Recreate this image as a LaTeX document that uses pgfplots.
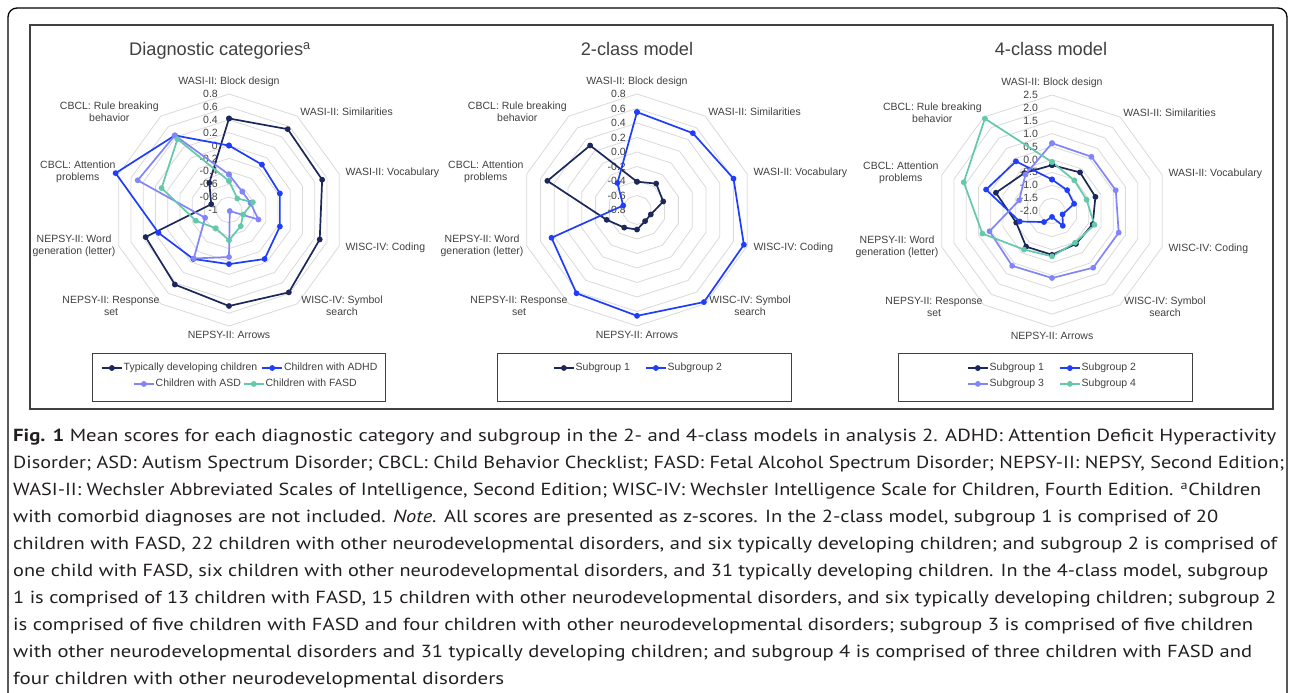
\documentclass[border=0pt]{standalone}
\usepackage{pgfplots}
\pgfplotsset{compat=1.18}
\usepackage{pgfplotstable}
\usepackage{graphicx}
\usepackage{fontspec}
\setmainfont{Liberation Sans}
\newfontfamily\capfont{PT Sans}
\definecolor{cA}{RGB}{28,40,90}
\definecolor{cB}{RGB}{32,62,250}
\definecolor{cC}{RGB}{130,132,250}
\definecolor{cD}{RGB}{100,200,170}
\definecolor{ringc}{RGB}{217,217,217}
\definecolor{txt}{RGB}{64,64,64}
\definecolor{captxt}{RGB}{35,31,32}
\newcommand\lab{\fontsize{10.5bp}{12bp}\selectfont}
\newcommand\ttl{\fontsize{18.2bp}{21bp}\selectfont}

% Diagnostic categories (z-scores)
\pgfplotstableread{
ang  td     adhd   asd    fasd
90   0.42   0.00  -0.45  -0.55
54   0.55  -0.13  -0.65  -0.78
18   0.52  -0.17  -0.65  -0.61
-18  0.48  -0.17  -0.52  -0.77
-54  0.58  -0.06  -0.98  -0.69
-90  0.49  -0.16  -0.27  -0.53
-126 0.43  -0.06  -0.07  -0.65
-162 0.36   0.15  -0.61  -0.46
162 -0.71   0.85   0.49   0.10
126 -0.48   0.43   0.43   0.36
90   0.42   0.00  -0.45  -0.55
}\tabA
% 2-class model
\pgfplotstableread{
ang  s1     s2
90  -0.41   0.55
54  -0.35   0.51
18  -0.42   0.60
-18 -0.60   0.75
-54 -0.61   0.77
-90 -0.53   0.66
-126 -0.50  0.62
-162 -0.36  0.44
162  0.50  -0.60
126  0.30  -0.34
90  -0.41   0.55
}\tabB
% 4-class model
\pgfplotstableread{
ang  s1     s2     s3     s4
90  -0.22  -0.78   0.63  -0.10
54  -0.15  -1.00   0.60  -0.53
18  -0.23  -1.10   0.60  -0.59
-18 -0.34  -1.57   0.72  -0.27
-54 -0.42  -1.29   0.72  -0.48
-90 -0.30  -1.77   0.60  -0.24
-126 -0.29 -1.47   0.63  -0.15
-162 -0.54 -0.68   0.55   0.84
162  0.29   0.69  -0.66   1.60
126 -0.18   0.38  -0.25   2.43
90  -0.22  -0.78   0.63  -0.10
}\tabC

\pgfplotsset{
  radar/.style={x=116bp, y=116bp, xmin=-1.3, xmax=1.3, ymin=-1.3, ymax=1.3,
    hide axis, clip=false, anchor=center,
    legend cell align=left,
    legend style={draw=none, fill=none, inner sep=0pt, outer sep=0pt, font=\lab, text=txt,
      nodes={inner sep=0pt, text height=7.6bp, text depth=2.2bp}, row sep=6bp, anchor=west},
    legend image code/.code={\draw[mark repeat=2,mark phase=2,##1] plot coordinates {(0bp,0bp) (10bp,0bp) (20bp,0bp)};},
  },
  ser/.style={draw=#1, line width=1.7bp, mark=*, mark size=2bp, mark options={fill=#1, draw=#1, solid}},
}
\tikzset{
  ring/.style={draw=ringc, line width=0.8bp},
  lab/.style={font=\lab, text=txt, inner sep=0pt, align=center},
  tk/.style={font=\lab, text=txt, inner sep=0pt, anchor=east},
}
\newcommand\rings[1]{%
  \pgfplotsinvokeforeach{1,...,#1}{%
    \draw[ring] (0,{##1/#1}) \foreach \a in {54,18,-18,-54,-90,-126,-162,162,126} {-- ({##1/#1*cos(\a)},{##1/#1*sin(\a)})} -- cycle;
  }%
}
\newcommand\catlabels{%
  \node[lab, anchor=south] at (0,1.06) {WASI-II: Block design};
  \node[lab, anchor=west] at (0.614,0.843) {WASI-II: Similarities};
  \node[lab, anchor=west] at (1.003,0.318) {WASI-II: Vocabulary};
  \node[lab, anchor=west] at (1.003,-0.326) {WISC-IV: Coding};
  \node[lab, anchor=west] at (0.622,-0.826) {WISC-IV: Symbol\\search};
  \node[lab, anchor=north] at (0,-1.043) {NEPSY-II: Arrows};
  \node[lab, anchor=east] at (-0.597,-0.826) {NEPSY-II: Response\\set};
  \node[lab, anchor=east] at (-0.977,-0.309) {NEPSY-II: Word\\generation (letter)};
  \node[lab, anchor=east] at (-0.977,0.326) {CBCL: Attention\\problems};
  \node[lab, anchor=east] at (-0.605,0.843) {CBCL: Rule breaking\\behavior};
}
\newcommand\capline[3]{\node[anchor=base west, inner sep=0pt, text=captxt] at (13,#1) {\resizebox{#2bp}{\height}{\capfont\fontsize{17.5bp}{20bp}\selectfont #3}};}

\begin{document}
\begin{tikzpicture}[x=1bp,y=1bp]
\path[use as bounding box] (0,0) rectangle (1292,693);
\draw[black, line width=1.3bp, rounded corners=9bp] (8,685) rectangle (1287,-30);
\draw[txt, line width=1.4bp] (30,668) rectangle (1273,284);

% titles
\node[anchor=base, inner sep=0pt, text=txt, font=\ttl] at (220,637) {Diagnostic categories\textsuperscript{a}};
\node[anchor=base, inner sep=0pt, text=txt, font=\ttl] at (637,637) {2-class model};
\node[anchor=base, inner sep=0pt, text=txt, font=\ttl] at (1051,637) {4-class model};

% legend boxes
\draw[txt, line width=1bp] (92,339) rectangle (385,291);
\draw[txt, line width=1bp] (497,339) rectangle (791,291);
\draw[txt, line width=1bp] (898,339) rectangle (1192,291);

% ---- chart 1
\begin{axis}[radar, at={(229bp,483bp)},
  legend columns=2,
  legend style={at={(0.0756,-0.0239)}, /tikz/every odd column/.append style={column sep=1bp}, /tikz/every even column/.append style={column sep=4bp}}]
\rings{9}
\catlabels
\node[tk] at (-0.095,1) {0.8};
\node[tk] at (-0.095,0.8889) {0.6};
\node[tk] at (-0.095,0.7778) {0.4};
\node[tk] at (-0.095,0.6667) {0.2};
\node[tk] at (-0.095,0.5556) {0};
\node[tk] at (-0.095,0.4444) {-0.2};
\node[tk] at (-0.095,0.3333) {-0.4};
\node[tk] at (-0.095,0.2222) {-0.6};
\node[tk] at (-0.095,0.1111) {-0.8};
\node[tk] at (-0.095,0) {-1};
\addplot[ser=cA] table[x expr={(\thisrow{td}+1)/1.8*cos(\thisrow{ang})}, y expr={(\thisrow{td}+1)/1.8*sin(\thisrow{ang})}] {\tabA};
\addlegendentry{Typically developing children}
\addplot[ser=cB] table[x expr={(\thisrow{adhd}+1)/1.8*cos(\thisrow{ang})}, y expr={(\thisrow{adhd}+1)/1.8*sin(\thisrow{ang})}] {\tabA};
\addlegendentry{Children with ADHD}
\end{axis}
\begin{axis}[radar, at={(229bp,483bp)},
  legend columns=2,
  legend style={at={(0.1817,-0.0769)}, /tikz/every odd column/.append style={column sep=1bp}, /tikz/every even column/.append style={column sep=2bp}}]
\addplot[ser=cC] table[x expr={(\thisrow{asd}+1)/1.8*cos(\thisrow{ang})}, y expr={(\thisrow{asd}+1)/1.8*sin(\thisrow{ang})}] {\tabA};
\addlegendentry{Children with ASD}
\addplot[ser=cD] table[x expr={(\thisrow{fasd}+1)/1.8*cos(\thisrow{ang})}, y expr={(\thisrow{fasd}+1)/1.8*sin(\thisrow{ang})}] {\tabA};
\addlegendentry{Children with FASD}
\end{axis}

% ---- chart 2
\begin{axis}[radar, at={(637bp,483bp)},
  legend columns=2,
  legend style={at={(0.2215,-0.0239)}, /tikz/every odd column/.append style={column sep=1bp}, /tikz/every even column/.append style={column sep=15bp}}]
\rings{8}
\catlabels
\node[tk] at (-0.095,1) {0.8};
\node[tk] at (-0.095,0.875) {0.6};
\node[tk] at (-0.095,0.75) {0.4};
\node[tk] at (-0.095,0.625) {0.2};
\node[tk] at (-0.095,0.5) {0.0};
\node[tk] at (-0.095,0.375) {-0.2};
\node[tk] at (-0.095,0.25) {-0.4};
\node[tk] at (-0.095,0.125) {-0.6};
\node[tk] at (-0.095,0) {-0.8};
\addplot[ser=cA] table[x expr={(\thisrow{s1}+0.8)/1.6*cos(\thisrow{ang})}, y expr={(\thisrow{s1}+0.8)/1.6*sin(\thisrow{ang})}] {\tabB};
\addlegendentry{Subgroup 1}
\addplot[ser=cB] table[x expr={(\thisrow{s2}+0.8)/1.6*cos(\thisrow{ang})}, y expr={(\thisrow{s2}+0.8)/1.6*sin(\thisrow{ang})}] {\tabB};
\addlegendentry{Subgroup 2}
\end{axis}

% ---- chart 3
\begin{axis}[radar, at={(1052bp,482bp)},
  legend columns=2,
  legend style={at={(0.2182,-0.0471)}, /tikz/every odd column/.append style={column sep=1bp}, /tikz/every even column/.append style={column sep=15bp}}]
\rings{9}
\catlabels
\node[tk] at (-0.12,1) {2.5};
\node[tk] at (-0.12,0.8889) {2.0};
\node[tk] at (-0.12,0.7778) {1.5};
\node[tk] at (-0.12,0.6667) {1.0};
\node[tk] at (-0.12,0.5556) {0.5};
\node[tk] at (-0.12,0.4444) {0.0};
\node[tk] at (-0.12,0.3333) {-0.5};
\node[tk] at (-0.12,0.2222) {-1.0};
\node[tk] at (-0.12,0.1111) {-1.5};
\node[tk] at (-0.12,0) {-2.0};
\addplot[ser=cA] table[x expr={(\thisrow{s1}+2)/4.5*cos(\thisrow{ang})}, y expr={(\thisrow{s1}+2)/4.5*sin(\thisrow{ang})}] {\tabC};
\addlegendentry{Subgroup 1}
\addplot[ser=cB] table[x expr={(\thisrow{s2}+2)/4.5*cos(\thisrow{ang})}, y expr={(\thisrow{s2}+2)/4.5*sin(\thisrow{ang})}] {\tabC};
\addlegendentry{Subgroup 2}
\addplot[ser=cC] table[x expr={(\thisrow{s3}+2)/4.5*cos(\thisrow{ang})}, y expr={(\thisrow{s3}+2)/4.5*sin(\thisrow{ang})}] {\tabC};
\addlegendentry{Subgroup 3}
\addplot[ser=cD] table[x expr={(\thisrow{s4}+2)/4.5*cos(\thisrow{ang})}, y expr={(\thisrow{s4}+2)/4.5*sin(\thisrow{ang})}] {\tabC};
\addlegendentry{Subgroup 4}
\end{axis}

% caption
\capline{251}{1263}{\textbf{Fig. 1} Mean scores for each diagnostic category and subgroup in the 2- and 4-class models in analysis 2. ADHD: Attention Deficit Hyperactivity}
\capline{224}{1271}{Disorder; ASD: Autism Spectrum Disorder; CBCL: Child Behavior Checklist; FASD: Fetal Alcohol Spectrum Disorder; NEPSY-II: NEPSY, Second Edition;}
\capline{197}{1248}{WASI-II: Wechsler Abbreviated Scales of Intelligence, Second Edition; WISC-IV: Wechsler Intelligence Scale for Children, Fourth Edition. \textsuperscript{a}Children}
\capline{170}{1205}{with comorbid diagnoses are not included. \textit{Note.} All scores are presented as z-scores. In the 2-class model, subgroup 1 is comprised of 20}
\capline{143}{1264}{children with FASD, 22 children with other neurodevelopmental disorders, and six typically developing children; and subgroup 2 is comprised of}
\capline{116}{1255}{one child with FASD, six children with other neurodevelopmental disorders, and 31 typically developing children. In the 4-class model, subgroup}
\capline{89}{1263}{1 is comprised of 13 children with FASD, 15 children with other neurodevelopmental disorders, and six typically developing children; subgroup 2}
\capline{62}{1240}{is comprised of five children with FASD and four children with other neurodevelopmental disorders; subgroup 3 is comprised of five children}
\capline{35}{1239}{with other neurodevelopmental disorders and 31 typically developing children; and subgroup 4 is comprised of three children with FASD and}
\capline{8}{491}{four children with other neurodevelopmental disorders}
\end{tikzpicture}
\end{document}
